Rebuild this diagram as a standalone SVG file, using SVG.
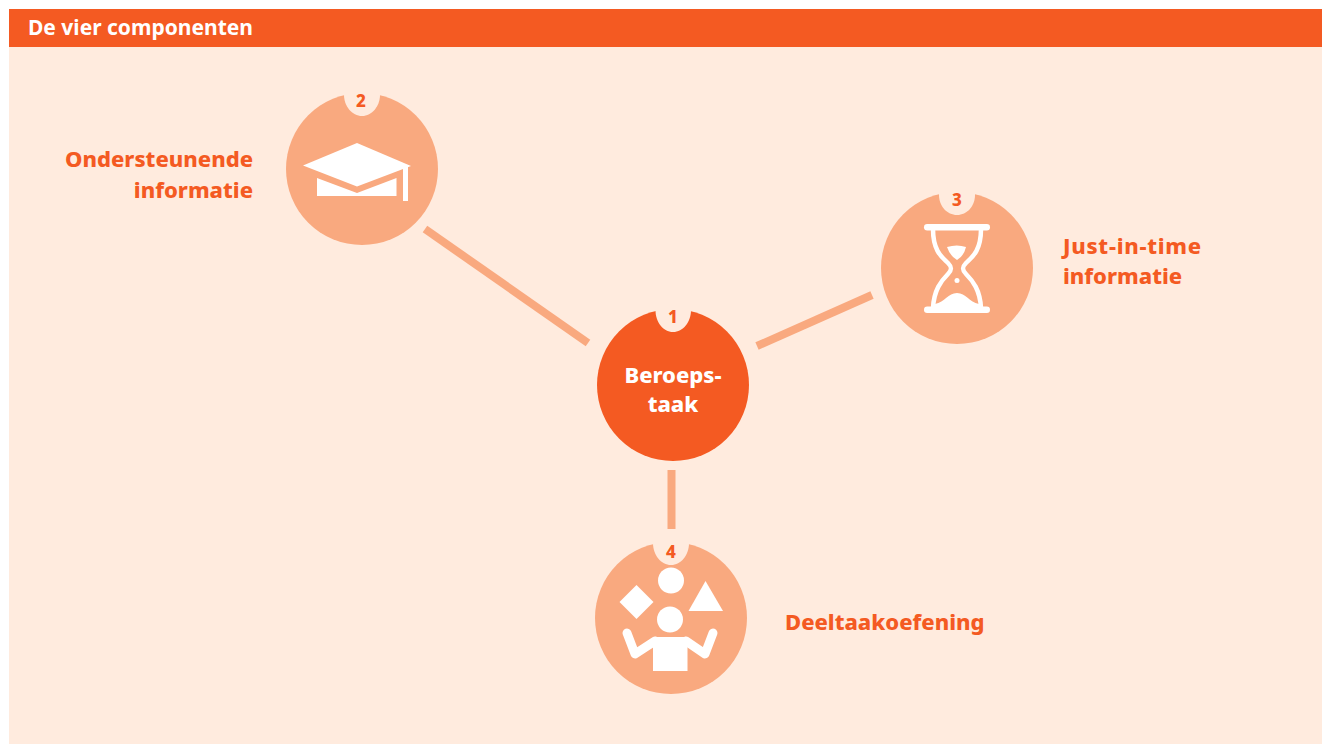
<svg xmlns="http://www.w3.org/2000/svg" width="1322" height="744" viewBox="0 0 1322 744">
<style>
text{font-family:"Noto Sans","Open Sans","Liberation Sans",sans-serif;font-weight:800}
.c{fill:#f9a97f}.n{fill:#ffebde}.w{fill:#fff}
.num{fill:#f45a22;font-size:17px;text-anchor:middle}
.lab{fill:#f45a22;font-size:22px}
.in{fill:#fff;font-size:22px;text-anchor:middle}
.l{stroke:#f9a97f;stroke-width:8;fill:none}
.s{stroke:#fff;fill:none;stroke-linecap:round;stroke-linejoin:round}
</style>
<rect width="1322" height="744" fill="#fff"/>
<rect x="9" y="47" width="1313" height="697" class="n"/>
<g id="header"><rect x="9" y="9" width="1313" height="38" fill="#f45a22"/>
<text x="28" y="35" fill="#fff" font-size="21" style="font-weight:700">De vier componenten</text></g>
<g id="connectors">
<line class="l" x1="425" y1="229" x2="588" y2="343"/>
<line class="l" x1="757" y1="346" x2="872" y2="295"/>
<line class="l" x1="671.500" y1="470" x2="671.500" y2="529"/>
</g>
<g id="node1">
<circle cx="673" cy="385" r="76" fill="#f45a22"/>
<path class="n" d="M655.500 305H691V310C691 322 683 332 673 332S655.500 322 655.500 310Z"/>
<text class="num" x="673" y="323">1</text>
<text class="in" x="673" y="383">Beroeps-</text>
<text class="in" x="673" y="412">taak</text>
</g>
<g id="node2">
<circle class="c" cx="362" cy="169" r="76"/>
<path class="n" d="M344 90H380V95C380 106 372 116 362 116S344 106 344 95Z"/>
<text class="num" x="361" y="107">2</text>
<path class="w" d="M303 165.500L357 143L411 166L357 186.500Z"/>
<path class="w" d="M317 178L357 193L396.500 178V196H317Z"/>
<rect class="w" x="403" y="167" width="5" height="34"/>
<text class="lab" x="253" y="167" text-anchor="end">Ondersteunende</text>
<text class="lab" x="253" y="198" text-anchor="end">informatie</text>
</g>
<g id="node3">
<circle class="c" cx="957" cy="268" r="76"/>
<path class="n" d="M939 188H975V195C975 206 967 215 957 215S939 206 939 195Z"/>
<text class="num" x="957" y="206">3</text>
<rect class="w" x="924" y="224" width="66" height="6.500" rx="3.200"/>
<rect class="w" x="924" y="306.500" width="66" height="6.500" rx="3.200"/>
<path class="s" stroke-width="4.500" d="M933 229C933 252 943 258 948 263C952 267 952 270 948 274C941 281 934 290 933 308"/>
<path class="s" stroke-width="4.500" d="M981 229C981 252 971 258 966 263C962 267 962 270 966 274C973 281 980 290 981 308"/>
<path class="w" d="M947 247Q957 244 966 247Q964 256 957 260Q950 256 947 247Z"/>
<circle class="w" cx="957" cy="280.500" r="2.500"/>
<path class="w" d="M935 307V304C945 302 948 293 957 293C966 293 969 302 979 304V307Z"/>
<text class="lab" x="1063" y="254" textLength="138">Just-in-time</text>
<text class="lab" x="1063" y="284">informatie</text>
</g>
<g id="node4">
<circle class="c" cx="671" cy="618" r="76"/>
<path class="n" d="M653 538H689V543C689 555 681 565 671 565S653 555 653 543Z"/>
<text class="num" x="671" y="558">4</text>
<circle class="w" cx="671" cy="580.500" r="13"/>
<circle class="w" cx="670" cy="619.500" r="13"/>
<path class="w" d="M636.500 585L653.500 602L636.500 619L619.500 602Z"/>
<path class="w" d="M705.500 581L723 611H688.500Z"/>
<path class="w" d="M653 637H687.500V671H653Z"/>
<path class="s" stroke-width="9" d="M627 633L635 654L655 641"/>
<path class="s" stroke-width="9" d="M713 633L705 654L686 641"/>
<text class="lab" x="785" y="630">Deeltaakoefening</text>
</g>
</svg>
